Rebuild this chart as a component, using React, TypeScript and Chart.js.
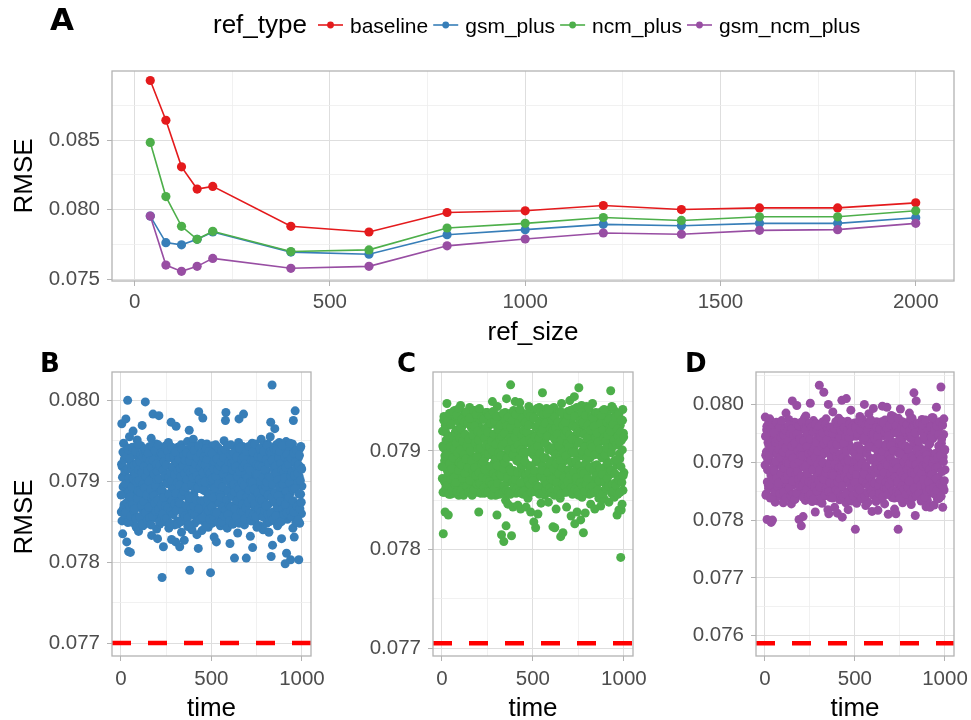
import React, { useEffect, useRef } from 'react';
import { Chart, registerables } from 'chart.js';
Chart.register(...registerables);

// ---------------- Panel A data ----------------
const REF_SIZE = [40, 80, 120, 160, 200, 400, 600, 800, 1000, 1200, 1400, 1600, 1800, 2000];
const BASELINE = [0.08927, 0.08642, 0.08308, 0.08149, 0.08168, 0.07882, 0.07841, 0.07981, 0.07993, 0.08031, 0.08002, 0.08014, 0.08014, 0.0805];
const GSM_PLUS = [0.07955, 0.07765, 0.07749, 0.07789, 0.07841, 0.07697, 0.07682, 0.07822, 0.07858, 0.07896, 0.07886, 0.07903, 0.07903, 0.07943];
const NCM_PLUS = [0.08483, 0.08095, 0.07882, 0.07789, 0.07846, 0.07701, 0.07713, 0.0787, 0.07903, 0.07945, 0.07924, 0.0795, 0.0795, 0.07993];
const GSM_NCM_PLUS = [0.07955, 0.07604, 0.07559, 0.07595, 0.07652, 0.07581, 0.07595, 0.07742, 0.07791, 0.07834, 0.07825, 0.07853, 0.07858, 0.07903];
const SERIES_NAMES = ['baseline', 'gsm_plus', 'ncm_plus', 'gsm_ncm_plus'];
const SERIES_COLORS = ['#E41A1C', '#377EB8', '#4DAF4A', '#984EA3'];

const A_X_MAJOR = [0, 500, 1000, 1500, 2000];
const A_X_MINOR = [250, 750, 1250, 1750];
const A_Y_MAJOR = [0.075, 0.08, 0.085];
const A_Y_MINOR = [0.0775, 0.0825, 0.0875];

// ---------------- Panels B, C, D data ----------------
// Runs sampled every 2.5 time units (first list at 2.5, 5, ... ; second list interleaved at 1.25, 3.75, ...)
const TIME_STEP = 2.5;
const TIME_MAJOR = [0, 500, 1000];
const TIME_MINOR = [250, 750];

const RMSE_B = [
  .07862,.07971,.07918,.07835,.07893,.07947,.07871,.07908,.07852,.07929,
  .07977,.07884,.07825,.07941,.08000,.07856,.07813,.07902,.07955,.07868,
  .07812,.07921,.07876,.07894,.07938,.07849,.07962,.07887,.07911,.07858,
  .07906,.07867,.07932,.07843,.07889,.07951,.07875,.07915,.07838,.07899,
  .07927,.07881,.07853,.07944,.07896,.07866,.07969,.07910,.07845,.07883,
  .07939,.07860,.07901,.07998,.07874,.07924,.07851,.07892,.07936,.07870,
  .07917,.07848,.07885,.07943,.07864,.07907,.07953,.07833,.07897,.07926,
  .07983,.07878,.07912,.07855,.07934,.07890,.07869,.07946,.07841,.07903,
  .07829,.07922,.07861,.07981,.07895,.07847,.07931,.07877,.07914,.07856,
  .07781,.07888,.07940,.07819,.07872,.07919,.07850,.07905,.07944,.07866,
  .07898,.07857,.07929,.07876,.07948,.07842,.07909,.07885,.07933,.07863,
  .07973,.07828,.07893,.07916,.07859,.07937,.07874,.07902,.07846,.07925,
  .07825,.07968,.07880,.07911,.07851,.07942,.07889,.07865,.07928,.07819,
  .07904,.07870,.07945,.07837,.07896,.07921,.07858,.07935,.07883,.07827,
  .07913,.07852,.07886,.07939,.07867,.07900,.07949,.07844,.07918,.07878,
  .07963,.07790,.07894,.07926,.07861,.07909,.07840,.07931,.07875,.07952,
  .07884,.07923,.07848,.07907,.07943,.07869,.07897,.07834,.07920,.07860,
  .07817,.07986,.07891,.07856,.07933,.07873,.07914,.07947,.07839,.07899,
  .07978,.07866,.07902,.07940,.07850,.07888,.07925,.07863,.07908,.07946,
  .07879,.07919,.07843,.07896,.07937,.07858,.07911,.07787,.07882,.07929,
  .07848,.07906,.07944,.07871,.07892,.07831,.07924,.07859,.07899,.07938,
  .07825,.07885,.07917,.07852,.07941,.07877,.07903,.07862,.07930,.07845,
  .07895,.07936,.07868,.07912,.07849,.07923,.07887,.07950,.07857,.07908,
  .07975,.07985,.07874,.07916,.07842,.07901,.07934,.07866,.07889,.07927,
  .07823,.07893,.07945,.07860,.07911,.07881,.07847,.07928,.07902,.07870,
  .07805,.07920,.07855,.07897,.07939,.07873,.07909,.07836,.07884,.07948,
  .07977,.07864,.07905,.07931,.07851,.07890,.07922,.07876,.07943,.07858,
  .07983,.07887,.07846,.07914,.07869,.07936,.07805,.07898,.07861,.07925,
  .07879,.07940,.07854,.07907,.07889,.07832,.07929,.07872,.07915,.07947,
  .07818,.07896,.07933,.07863,.07910,.07850,.07885,.07942,.07875,.07921,
  .07905,.07857,.07938,.07882,.07917,.07845,.07894,.07930,.07868,.07952,
  .07866,.07924,.07891,.07840,.07944,.07878,.07908,.07859,.07934,.07899,
  .07913,.07848,.07883,.07946,.07871,.07902,.07837,.07926,.07888,.07955,
  .07973,.07807,.07896,.08019,.07821,.07939,.07862,.07918,.07880,.07965,
  .07851,.07909,.07945,.07876,.07932,.07845,.07897,.07928,.07865,.07948,
  .07889,.07936,.07856,.07911,.07829,.07901,.07942,.07870,.07919,.07883,
  .07864,.07922,.07798,.07893,.07949,.07811,.07906,.07853,.07934,.07877,
  .07915,.07858,.07940,.07885,.07803,.07927,.07868,.07901,.07946,.07842,
  .07975,.07892,.07831,.07923,.07987,.07863,.07910,.07938,.07854,.07899,
  .07872,.07929,.07803,.07906,.07848,.07941,.07884,.07917,.07860,.07894,
];
const RMSE_B_2 = [
  .07883,.07921,.07851,.07905,.07936,.07866,.07894,.07927,.07859,.07912,
  .07897,.07862,.07931,.07874,.07915,.07849,.07939,.07887,.07904,.07869,
  .07928,.07881,.07857,.07916,.07893,.07942,.07871,.07903,.07864,.07920,
  .07866,.07909,.07937,.07854,.07899,.07922,.07879,.07946,.07888,.07914,
  .07901,.07856,.07924,.07886,.07933,.07870,.07911,.07847,.07896,.07930,
  .07875,.07918,.07892,.07940,.07861,.07906,.07929,.07883,.07852,.07913,
  .07934,.07868,.07900,.07855,.07925,.07890,.07846,.07917,.07879,.07943,
  .07857,.07926,.07882,.07909,.07873,.07938,.07894,.07863,.07921,.07902,
  .07912,.07877,.07945,.07865,.07903,.07850,.07919,.07887,.07935,.07871,
  .07889,.07933,.07860,.07914,.07880,.07924,.07853,.07907,.07869,.07941,
  .07920,.07854,.07897,.07937,.07867,.07905,.07884,.07929,.07848,.07911,
  .07863,.07900,.07942,.07876,.07918,.07859,.07931,.07891,.07908,.07872,
  .07936,.07885,.07864,.07923,.07898,.07847,.07913,.07874,.07927,.07895,
  .07873,.07916,.07906,.07850,.07940,.07882,.07862,.07919,.07888,.07932,
  .07909,.07857,.07926,.07893,.07870,.07935,.07902,.07855,.07914,.07881,
  .07846,.07925,.07879,.07911,.07932,.07866,.07896,.07943,.07861,.07904,
  .07915,.07869,.07938,.07858,.07890,.07921,.07877,.07907,.07929,.07852,
  .07892,.07944,.07866,.07902,.07852,.07917,.07934,.07876,.07898,.07922,
  .07855,.07911,.07889,.07930,.07875,.07899,.07920,.07845,.07940,.07868,
  .07927,.07878,.07913,.07864,.07936,.07885,.07853,.07910,.07872,.07901,
  .07868,.07934,.07903,.07880,.07915,.07856,.07925,.07891,.07862,.07945,
  .07906,.07861,.07928,.07914,.07849,.07897,.07940,.07873,.07919,.07884,
  .07880,.07923,.07850,.07938,.07893,.07868,.07909,.07929,.07857,.07915,
  .07939,.07864,.07916,.07877,.07901,.07944,.07859,.07887,.07924,.07870,
  .07851,.07903,.07932,.07869,.07922,.07882,.07914,.07847,.07935,.07896,
  .07924,.07887,.07866,.07918,.07856,.07930,.07876,.07906,.07893,.07942,
  .07890,.07848,.07912,.07941,.07883,.07863,.07927,.07899,.07871,.07917,
  .07862,.07930,.07895,.07853,.07921,.07908,.07867,.07937,.07881,.07904,
  .07917,.07874,.07943,.07889,.07860,.07913,.07899,.07851,.07926,.07878,
  .07898,.07936,.07858,.07925,.07890,.07872,.07946,.07910,.07856,.07920,
  .07843,.07909,.07885,.07931,.07866,.07919,.07878,.07940,.07900,.07862,
  .07930,.07876,.07918,.07856,.07905,.07937,.07888,.07864,.07914,.07894,
  .07870,.07927,.07899,.07944,.07859,.07883,.07922,.07906,.07850,.07936,
  .07905,.07861,.07934,.07880,.07926,.07896,.07853,.07915,.07940,.07874,
  .07886,.07919,.07857,.07910,.07939,.07868,.07902,.07882,.07929,.07848,
  .07937,.07893,.07875,.07922,.07850,.07914,.07944,.07866,.07896,.07911,
  .07859,.07904,.07930,.07871,.07917,.07887,.07861,.07933,.07879,.07924,
  .07921,.07880,.07898,.07947,.07863,.07906,.07928,.07856,.07912,.07890,
  .07876,.07935,.07862,.07907,.07891,.07923,.07849,.07916,.07938,.07869,
  .07910,.07852,.07920,.07884,.07932,.07866,.07901,.07943,.07874,.07915,
];

const RMSE_C = [
  .07872,.07905,.07816,.07931,.07858,.07890,.07838,.07919,.07866,.07899,
  .07948,.07880,.07912,.07835,.07926,.07861,.07895,.07938,.07856,.07884,
  .07908,.07869,.07933,.07877,.07915,.07857,.07901,.07941,.07864,.07888,
  .07921,.07860,.07896,.07936,.07874,.07911,.07855,.07929,.07883,.07903,
  .07946,.07866,.07924,.07887,.07857,.07916,.07893,.07935,.07870,.07907,
  .07939,.07859,.07900,.07928,.07879,.07914,.07862,.07890,.07940,.07873,
  .07944,.07897,.07867,.07930,.07884,.07910,.07856,.07922,.07875,.07903,
  .07941,.07863,.07906,.07889,.07934,.07871,.07918,.07858,.07895,.07927,
  .07838,.07911,.07876,.07923,.07861,.07898,.07937,.07881,.07914,.07866,
  .07901,.07932,.07857,.07892,.07919,.07869,.07939,.07885,.07910,.07860,
  .07878,.07925,.07866,.07904,.07935,.07857,.07896,.07917,.07874,.07930,
  .07950,.07862,.07909,.07887,.07927,.07870,.07913,.07855,.07899,.07936,
  .07835,.07945,.07882,.07918,.07858,.07903,.07930,.07873,.07912,.07862,
  .07815,.07890,.07931,.07864,.07920,.07808,.07896,.07877,.07939,.07850,
  .07824,.07953,.07868,.07906,.07846,.07927,.07884,.07915,.07859,.07938,
  .07967,.07872,.07814,.07921,.07894,.07843,.07933,.07880,.07909,.07865,
  .07950,.07898,.07857,.07926,.07876,.07911,.07845,.07937,.07889,.07863,
  .07949,.07915,.07841,.07883,.07929,.07867,.07903,.07938,.07856,.07894,
  .07875,.07920,.07860,.07908,.07843,.07935,.07886,.07912,.07852,.07930,
  .07945,.07866,.07899,.07927,.07838,.07917,.07879,.07905,.07941,.07861,
  .07896,.07828,.07934,.07871,.07913,.07822,.07889,.07924,.07858,.07907,
  .07836,.07918,.07875,.07944,.07862,.07901,.07931,.07847,.07887,.07925,
  .07959,.07864,.07910,.07882,.07937,.07855,.07920,.07893,.07869,.07943,
  .07932,.07873,.07905,.07848,.07926,.07884,.07916,.07860,.07941,.07890,
  .07916,.07857,.07936,.07823,.07899,.07944,.07868,.07822,.07911,.07878,
  .07841,.07927,.07882,.07906,.07863,.07939,.07894,.07875,.07919,.07852,
  .07813,.07902,.07948,.07867,.07926,.07817,.07889,.07934,.07858,.07915,
  .07937,.07880,.07921,.07843,.07908,.07873,.07940,.07862,.07897,.07928,
  .07951,.07869,.07913,.07834,.07929,.07888,.07856,.07942,.07876,.07904,
  .07955,.07826,.07898,.07936,.07866,.07917,.07838,.07884,.07924,.07860,
  .07964,.07909,.07874,.07931,.07830,.07895,.07946,.07853,.07919,.07881,
  .07817,.07940,.07864,.07906,.07837,.07926,.07887,.07945,.07870,.07912,
  .07943,.07879,.07918,.07856,.07934,.07893,.07846,.07922,.07868,.07903,
  .07948,.07860,.07929,.07885,.07913,.07841,.07937,.07874,.07900,.07858,
  .07905,.07938,.07867,.07921,.07852,.07896,.07933,.07879,.07844,.07916,
  .07940,.07871,.07910,.07859,.07929,.07883,.07851,.07918,.07893,.07936,
  .07862,.07925,.07889,.07941,.07866,.07907,.07848,.07934,.07876,.07915,
  .07961,.07901,.07857,.07930,.07880,.07943,.07864,.07912,.07853,.07924,
  .07940,.07868,.07919,.07886,.07835,.07932,.07874,.07908,.07840,.07897,
  .07892,.07926,.07792,.07840,.07911,.07846,.07931,.07860,.07918,.07878,
];
const RMSE_C_2 = [
  .07884,.07920,.07858,.07903,.07935,.07869,.07895,.07926,.07862,.07911,
  .07897,.07865,.07930,.07876,.07914,.07856,.07938,.07887,.07904,.07871,
  .07927,.07882,.07860,.07915,.07893,.07940,.07873,.07902,.07866,.07919,
  .07868,.07908,.07936,.07859,.07898,.07921,.07880,.07943,.07888,.07913,
  .07901,.07859,.07923,.07886,.07932,.07872,.07910,.07855,.07896,.07929,
  .07877,.07917,.07892,.07939,.07864,.07905,.07928,.07883,.07858,.07912,
  .07933,.07870,.07900,.07860,.07924,.07890,.07855,.07916,.07880,.07941,
  .07861,.07925,.07883,.07908,.07875,.07937,.07894,.07866,.07920,.07902,
  .07911,.07878,.07943,.07867,.07903,.07857,.07918,.07887,.07934,.07873,
  .07889,.07932,.07863,.07913,.07881,.07923,.07858,.07906,.07871,.07939,
  .07919,.07858,.07897,.07936,.07869,.07904,.07884,.07928,.07855,.07910,
  .07866,.07900,.07940,.07877,.07917,.07862,.07930,.07891,.07907,.07874,
  .07935,.07885,.07867,.07922,.07898,.07856,.07912,.07876,.07926,.07895,
  .07875,.07915,.07905,.07857,.07938,.07882,.07865,.07918,.07888,.07931,
  .07908,.07860,.07925,.07893,.07872,.07934,.07901,.07858,.07913,.07881,
  .07856,.07924,.07879,.07910,.07931,.07868,.07896,.07941,.07864,.07903,
  .07914,.07871,.07937,.07861,.07890,.07920,.07878,.07906,.07928,.07858,
  .07892,.07942,.07868,.07901,.07857,.07916,.07933,.07877,.07898,.07921,
  .07859,.07910,.07889,.07929,.07876,.07899,.07919,.07855,.07938,.07870,
  .07926,.07879,.07912,.07866,.07935,.07885,.07858,.07909,.07873,.07900,
  .07870,.07933,.07902,.07880,.07914,.07859,.07924,.07891,.07865,.07943,
  .07905,.07863,.07927,.07913,.07856,.07897,.07939,.07874,.07918,.07884,
  .07880,.07922,.07857,.07937,.07893,.07870,.07908,.07928,.07861,.07914,
  .07938,.07866,.07915,.07878,.07901,.07942,.07862,.07887,.07923,.07872,
  .07858,.07903,.07931,.07871,.07921,.07882,.07913,.07855,.07934,.07896,
  .07923,.07887,.07868,.07917,.07860,.07929,.07877,.07905,.07893,.07940,
  .07890,.07856,.07911,.07939,.07883,.07866,.07926,.07899,.07873,.07916,
  .07864,.07929,.07895,.07858,.07920,.07907,.07869,.07936,.07881,.07904,
  .07916,.07875,.07941,.07889,.07863,.07912,.07899,.07857,.07925,.07879,
  .07898,.07935,.07861,.07924,.07890,.07873,.07944,.07909,.07859,.07919,
  .07855,.07908,.07885,.07930,.07868,.07918,.07879,.07939,.07900,.07864,
  .07929,.07877,.07917,.07859,.07904,.07936,.07888,.07866,.07913,.07894,
  .07872,.07926,.07899,.07943,.07862,.07883,.07921,.07906,.07857,.07935,
  .07904,.07864,.07933,.07880,.07925,.07896,.07858,.07914,.07939,.07875,
  .07886,.07918,.07860,.07909,.07938,.07870,.07902,.07882,.07928,.07856,
  .07936,.07893,.07876,.07921,.07857,.07913,.07942,.07868,.07896,.07910,
  .07862,.07903,.07929,.07872,.07916,.07887,.07864,.07932,.07879,.07923,
  .07920,.07880,.07898,.07945,.07866,.07905,.07927,.07859,.07911,.07890,
  .07877,.07934,.07865,.07906,.07891,.07922,.07856,.07915,.07937,.07870,
  .07909,.07858,.07919,.07884,.07931,.07868,.07901,.07942,.07875,.07914,
];

const RMSE_D = [
  .07978,.07912,.07845,.07956,.07801,.07887,.07934,.07860,.07969,.07903,
  .07975,.07838,.07921,.07796,.07947,.07872,.07800,.07928,.07856,.07961,
  .07894,.07942,.07831,.07915,.07866,.07958,.07879,.07937,.07849,.07905,
  .07951,.07876,.07923,.07841,.07963,.07896,.07857,.07940,.07883,.07918,
  .07830,.07908,.07959,.07864,.07929,.07847,.07985,.07891,.07945,.07870,
  .07917,.07853,.07974,.07902,.07839,.07938,.07880,.07961,.07828,.07925,
  .08006,.07889,.07946,.07861,.07910,.07969,.07836,.07931,.07874,.07952,
  .07998,.07844,.07920,.07880,.07964,.07801,.07905,.07943,.07858,.07892,
  .07790,.07935,.07869,.07957,.07806,.07914,.07848,.07976,.07898,.07834,
  .07980,.07926,.07865,.07948,.07882,.07837,.07966,.07909,.07851,.07939,
  .08002,.07871,.07953,.07895,.07832,.07930,.07863,.07972,.07916,.07845,
  .07955,.07814,.07905,.07967,.07858,.07941,.07886,.07833,.07924,.07877,
  .08033,.07901,.07849,.07962,.07878,.07936,.07829,.07913,.07970,.07866,
  .08021,.07887,.07944,.07842,.07919,.07975,.07860,.07897,.07932,.07818,
  .08000,.07811,.07925,.07873,.07958,.07839,.07904,.07947,.07868,.07889,
  .07987,.07852,.07937,.07891,.07822,.07964,.07879,.07915,.07842,.07950,
  .07812,.07929,.07869,.07976,.07900,.07835,.07943,.07884,.07959,.07857,
  .08007,.07805,.07916,.07962,.07871,.07926,.07840,.07954,.07893,.07830,
  .08010,.07906,.07848,.07971,.07818,.07933,.07876,.07961,.07902,.07862,
  .07990,.07944,.07833,.07897,.07951,.07867,.07922,.07838,.07968,.07886,
  .07784,.07875,.07945,.07829,.07910,.07966,.07855,.07928,.07894,.07949,
  .07979,.07917,.07858,.07960,.07837,.07902,.07974,.07871,.07939,.07846,
  .08000,.07892,.07937,.07825,.07921,.07866,.07956,.07884,.07831,.07943,
  .07984,.07848,.07968,.07907,.07859,.07935,.07878,.07815,.07926,.07963,
  .07993,.07863,.07929,.07853,.07948,.07895,.07832,.07970,.07885,.07911,
  .07817,.07940,.07881,.07958,.07843,.07922,.07869,.07906,.07966,.07836,
  .07997,.07908,.07852,.07946,.07890,.07828,.07973,.07861,.07931,.07899,
  .07995,.07870,.07921,.07810,.07964,.07884,.07941,.07847,.07913,.07957,
  .07981,.07927,.07839,.07955,.07897,.07865,.07978,.07819,.07934,.07876,
  .07811,.07901,.07962,.07844,.07925,.07784,.07887,.07949,.07858,.07918,
  .07992,.07854,.07936,.07883,.07970,.07830,.07910,.07865,.07944,.07896,
  .07928,.07871,.07952,.07837,.07904,.07967,.07849,.07917,.07882,.07960,
  .07985,.07913,.07860,.07941,.07827,.07898,.07976,.07844,.07929,.07873,
  .08020,.07887,.07948,.07808,.07915,.08006,.07862,.07937,.07869,.07954,
  .07903,.07966,.07842,.07925,.07878,.07955,.07833,.07911,.07974,.07856,
  .07972,.07890,.07939,.07851,.07921,.07867,.07959,.07823,.07906,.07945,
  .07834,.07919,.07879,.07963,.07846,.07932,.07822,.07892,.07951,.07868,
  .07977,.07855,.07941,.07885,.07969,.07826,.07914,.07862,.07947,.07899,
  .07995,.07896,.07837,.07957,.07874,.07928,.07842,.07961,.07905,.07866,
  .08030,.07933,.07864,.07965,.07822,.07909,.07948,.07852,.07920,.07887,
];
const RMSE_D_2 = [
  .07895,.07945,.07843,.07918,.07962,.07866,.07905,.07952,.07855,.07929,
  .07912,.07861,.07958,.07878,.07934,.07840,.07966,.07889,.07921,.07870,
  .07951,.07885,.07849,.07935,.07902,.07969,.07873,.07916,.07858,.07940,
  .07864,.07922,.07961,.07846,.07909,.07943,.07880,.07972,.07892,.07931,
  .07918,.07848,.07947,.07890,.07957,.07871,.07925,.07838,.07901,.07954,
  .07877,.07936,.07898,.07964,.07855,.07914,.07950,.07883,.07842,.07928,
  .07958,.07867,.07907,.07845,.07946,.07896,.07836,.07933,.07879,.07968,
  .07847,.07949,.07884,.07920,.07870,.07963,.07902,.07859,.07941,.07913,
  .07926,.07876,.07970,.07860,.07911,.07839,.07937,.07891,.07959,.07869,
  .07893,.07957,.07853,.07927,.07881,.07948,.07841,.07915,.07866,.07967,
  .07940,.07844,.07903,.07961,.07862,.07917,.07887,.07953,.07836,.07923,
  .07858,.07908,.07966,.07874,.07935,.07850,.07956,.07896,.07919,.07868,
  .07962,.07886,.07857,.07944,.07904,.07837,.07927,.07873,.07951,.07899,
  .07871,.07932,.07916,.07843,.07965,.07882,.07854,.07938,.07889,.07958,
  .07920,.07849,.07952,.07898,.07865,.07961,.07911,.07840,.07930,.07880,
  .07838,.07950,.07877,.07921,.07958,.07860,.07897,.07970,.07852,.07910,
  .07931,.07866,.07963,.07848,.07891,.07942,.07872,.07914,.07955,.07841,
  .07894,.07971,.07859,.07908,.07840,.07933,.07960,.07875,.07900,.07945,
  .07845,.07919,.07888,.07955,.07870,.07903,.07943,.07835,.07966,.07862,
  .07953,.07878,.07924,.07856,.07962,.07886,.07842,.07917,.07868,.07905,
  .07865,.07960,.07910,.07879,.07928,.07846,.07949,.07892,.07855,.07972,
  .07909,.07852,.07956,.07922,.07838,.07897,.07967,.07869,.07940,.07883,
  .07880,.07943,.07841,.07964,.07893,.07863,.07915,.07954,.07848,.07925,
  .07966,.07858,.07927,.07873,.07904,.07973,.07850,.07886,.07948,.07866,
  .07843,.07906,.07950,.07864,.07940,.07881,.07923,.07836,.07960,.07896,
  .07946,.07887,.07860,.07932,.07846,.07957,.07870,.07908,.07893,.07970,
  .07890,.07840,.07919,.07968,.07882,.07856,.07952,.07899,.07865,.07928,
  .07856,.07958,.07895,.07844,.07945,.07912,.07861,.07965,.07879,.07906,
  .07929,.07869,.07974,.07889,.07851,.07920,.07899,.07838,.07951,.07874,
  .07899,.07963,.07848,.07950,.07890,.07866,.07976,.07915,.07845,.07939,
  .07837,.07914,.07883,.07959,.07859,.07930,.07876,.07969,.07901,.07853,
  .07957,.07873,.07928,.07845,.07907,.07965,.07888,.07857,.07922,.07894,
  .07867,.07954,.07899,.07975,.07848,.07882,.07945,.07910,.07839,.07963,
  .07905,.07855,.07962,.07879,.07951,.07896,.07842,.07921,.07967,.07870,
  .07886,.07937,.07846,.07913,.07968,.07860,.07904,.07881,.07953,.07836,
  .07965,.07894,.07870,.07944,.07840,.07918,.07973,.07858,.07896,.07912,
  .07850,.07904,.07956,.07866,.07931,.07887,.07853,.07961,.07877,.07946,
  .07943,.07879,.07898,.07977,.07856,.07906,.07954,.07845,.07915,.07890,
  .07872,.07963,.07852,.07908,.07891,.07948,.07837,.07926,.07970,.07862,
  .07912,.07841,.07940,.07884,.07964,.07858,.07901,.07975,.07868,.07922,
];

const REF_LINE_B = 0.077;
const REF_LINE_C = 0.07705;
const REF_LINE_D = 0.07587;

const B_Y_MAJOR = [0.077, 0.078, 0.079, 0.08];
const B_Y_MINOR = [0.0775, 0.0785, 0.0795];
const C_Y_MAJOR = [0.077, 0.078, 0.079];
const C_Y_MINOR = [0.0775, 0.0785, 0.0795];
const D_Y_MAJOR = [0.076, 0.077, 0.078, 0.079, 0.08];
const D_Y_MINOR = [0.0765, 0.0775, 0.0785, 0.0795, 0.0805];

// ---------------- styling helpers ----------------
const FONT = '"Liberation Sans", Arial, Helvetica, sans-serif';
const HEAVY = '"DejaVu Sans", "Liberation Sans", sans-serif';
const GRID_MAJOR = '#DEDEDE';
const GRID_MINOR = '#EDEDED';
const BORDER = '#B3B3B3';

function makeScale(axis: 'x' | 'y', min: number, max: number, major: number[], minor: number[],
  fmt: (v: number) => string, size: number, pad: number) {
  const all = [...major, ...minor].sort((a, b) => a - b);
  const isMinor = (v: any) => minor.includes(v);
  return {
    type: 'linear',
    position: axis === 'x' ? 'bottom' : 'left',
    min, max,
    bounds: 'data',
    afterBuildTicks: (s: any) => { s.ticks = all.map((v) => ({ value: v })); },
    afterFit: (s: any) => {
      if (axis === 'y') s.width = size; else s.height = size;
      s.paddingLeft = 0; s.paddingRight = 0; s.paddingTop = 0; s.paddingBottom = 0;
    },
    grid: {
      color: (c: any) => (c.tick && isMinor(c.tick.value) ? GRID_MINOR : GRID_MAJOR),
      lineWidth: (c: any) => (c.tick && isMinor(c.tick.value) ? 0.8 : 1),
      tickColor: (c: any) => (c.tick && isMinor(c.tick.value) ? 'rgba(0,0,0,0)' : BORDER),
      tickLength: 5,
      tickWidth: 1,
      drawTicks: true,
    },
    border: { display: false },
    title: { display: false },
    ticks: {
      autoSkip: false, maxRotation: 0, minRotation: 0, padding: pad,
      color: '#4D4D4D',
      font: { family: FONT, size: 20.5 },
      callback: (v: any) => (isMinor(v) ? '' : fmt(v)),
    },
  };
}

type TextItem = { text: string; x: number; y: number; font: string; align?: CanvasTextAlign; baseline?: CanvasTextBaseline; rotate?: boolean; color?: string };

function decorPlugin(texts: TextItem[], legend?: boolean) {
  return {
    id: 'decor',
    afterDatasetsDraw(chart: any) {
      const { ctx, chartArea: a } = chart;
      ctx.save();
      ctx.strokeStyle = BORDER;
      ctx.lineWidth = 1.3;
      ctx.strokeRect(a.left, a.top, a.right - a.left, a.bottom - a.top);
      ctx.restore();
    },
    afterDraw(chart: any) {
      const ctx = chart.ctx as CanvasRenderingContext2D;
      ctx.save();
      for (const t of texts) {
        ctx.font = t.font;
        ctx.fillStyle = t.color || '#000';
        ctx.textAlign = t.align || 'left';
        ctx.textBaseline = t.baseline || 'alphabetic';
        if (t.rotate) {
          ctx.save();
          ctx.translate(t.x, t.y);
          ctx.rotate(-Math.PI / 2);
          ctx.fillText(t.text, 0, 0);
          ctx.restore();
        } else {
          ctx.fillText(t.text, t.x, t.y);
        }
      }
      if (legend) {
        ctx.font = `26px ${FONT}`;
        ctx.fillStyle = '#000';
        ctx.textAlign = 'left';
        ctx.textBaseline = 'alphabetic';
        ctx.fillText('ref_type', 213, 33);
        let x = 318;
        const ky = 25;
        ctx.font = `21px ${FONT}`;
        SERIES_NAMES.forEach((name, i) => {
          ctx.strokeStyle = SERIES_COLORS[i];
          ctx.fillStyle = SERIES_COLORS[i];
          ctx.lineWidth = 1.6;
          ctx.beginPath();
          ctx.moveTo(x, ky);
          ctx.lineTo(x + 25, ky);
          ctx.stroke();
          ctx.beginPath();
          ctx.arc(x + 12.5, ky, 3.4, 0, Math.PI * 2);
          ctx.fill();
          ctx.fillStyle = '#000';
          ctx.fillText(name, x + 32, 33);
          x += 32 + ctx.measureText(name).width + 5;
        });
      }
      ctx.restore();
    },
  };
}

function ChartBox({ left, top, width, height, make }: { left: number; top: number; width: number; height: number; make: () => any }) {
  const ref = useRef<HTMLCanvasElement>(null);
  useEffect(() => {
    const chart = new Chart(ref.current as HTMLCanvasElement, make());
    return () => chart.destroy();
  }, []);
  return <canvas ref={ref} width={width} height={height} style={{ position: 'absolute', left, top, width, height }} />;
}

const fmtY = (v: number) => v.toFixed(3);
const fmtX = (v: number) => String(v);

function makeA() {
  const series = [BASELINE, GSM_PLUS, NCM_PLUS, GSM_NCM_PLUS];
  const order = [3, 2, 1, 0]; // later groups drawn on top
  return {
    type: 'line',
    data: {
      datasets: order.map((k) => ({
        label: SERIES_NAMES[k],
        data: REF_SIZE.map((x, i) => ({ x, y: series[k][i] })),
        borderColor: SERIES_COLORS[k],
        backgroundColor: SERIES_COLORS[k],
        borderWidth: 1.6,
        pointRadius: 4.6,
        pointBorderWidth: 0,
        tension: 0,
      })),
    },
    options: {
      animation: false,
      responsive: false,
      devicePixelRatio: 1,
      layout: { padding: { top: 71, right: 17, left: 0, bottom: 0 }, autoPadding: false },
      plugins: { legend: { display: false }, tooltip: { enabled: false } },
      scales: {
        x: makeScale('x', -58, 2098, A_X_MAJOR, A_X_MINOR, fmtX, 69, 4),
        y: makeScale('y', 0.0749, 0.08995, A_Y_MAJOR, A_Y_MINOR, fmtY, 112, 7),
      },
    },
    plugins: [decorPlugin([
      { text: 'A', x: 50, y: 22, font: `bold 31px ${HEAVY}`, baseline: 'middle' },
      { text: 'RMSE', x: 25, y: 176, font: `26px ${FONT}`, align: 'center', baseline: 'middle', rotate: true },
      { text: 'ref_size', x: 533, y: 340, font: `26px ${FONT}`, align: 'center' },
    ], true)],
  };
}

function makeScatter(values: number[], values2: number[], color: string, refLine: number, yMin: number, yMax: number,
  yMajor: number[], yMinor: number[], yWidth: number, rightPad: number, texts: TextItem[]) {
  const xMin = -49;
  const xMax = 1050;
  const points = [
    ...values.map((v, i) => ({ x: (i + 1) * TIME_STEP, y: v })),
    ...values2.map((v, i) => ({ x: (i + 0.5) * TIME_STEP, y: v })),
  ];
  return () => ({
    type: 'scatter',
    data: {
      datasets: [
        {
          type: 'line',
          data: [{ x: xMin, y: refLine }, { x: xMax, y: refLine }],
          borderColor: '#FF0000',
          borderWidth: 4.5,
          borderDash: [19, 17],
          pointRadius: 0,
          fill: false,
        },
        {
          type: 'scatter',
          data: points,
          backgroundColor: color,
          borderWidth: 0,
          pointRadius: 4.5,
        },
      ],
    },
    options: {
      animation: false,
      responsive: false,
      devicePixelRatio: 1,
      layout: { padding: { top: 22, right: rightPad, left: 0, bottom: 0 }, autoPadding: false },
      plugins: { legend: { display: false }, tooltip: { enabled: false } },
      scales: {
        x: makeScale('x', xMin, xMax, TIME_MAJOR, TIME_MINOR, fmtX, 64, 6),
        y: makeScale('y', yMin, yMax, yMajor, yMinor, fmtY, yWidth, 7),
      },
    },
    plugins: [decorPlugin(texts)],
  });
}

const makeB = makeScatter(RMSE_B, RMSE_B_2, '#377EB8', REF_LINE_B, 0.07684, 0.08035, B_Y_MAJOR, B_Y_MINOR, 112, 19, [
  { text: 'B', x: 40, y: 15, font: `bold 26px ${HEAVY}`, baseline: 'middle' },
  { text: 'RMSE', x: 25, y: 167, font: `26px ${FONT}`, align: 'center', baseline: 'middle', rotate: true },
  { text: 'time', x: 211.5, y: 366, font: `26px ${FONT}`, align: 'center' },
]);
const makeC = makeScatter(RMSE_C, RMSE_C_2, '#4DAF4A', REF_LINE_C, 0.07692, 0.0798, C_Y_MAJOR, C_Y_MINOR, 103, 17, [
  { text: 'C', x: 67, y: 15, font: `bold 26px ${HEAVY}`, baseline: 'middle' },
  { text: 'time', x: 203, y: 366, font: `26px ${FONT}`, align: 'center' },
]);
const makeD = makeScatter(RMSE_D, RMSE_D_2, '#984EA3', REF_LINE_D, 0.07565, 0.08056, D_Y_MAJOR, D_Y_MINOR, 106, 17, [
  { text: 'D', x: 35, y: 15, font: `bold 26px ${HEAVY}`, baseline: 'middle' },
  { text: 'time', x: 205, y: 366, font: `26px ${FONT}`, align: 'center' },
]);

export default function App() {
  return (
    <div style={{ position: 'absolute', left: 0, top: 0, width: 971, height: 720, background: '#fff', overflow: 'hidden' }}>
      <ChartBox left={0} top={0} width={971} height={350} make={makeA} />
      <ChartBox left={0} top={350} width={330} height={370} make={makeB} />
      <ChartBox left={330} top={350} width={320} height={370} make={makeC} />
      <ChartBox left={650} top={350} width={321} height={370} make={makeD} />
    </div>
  );
}
